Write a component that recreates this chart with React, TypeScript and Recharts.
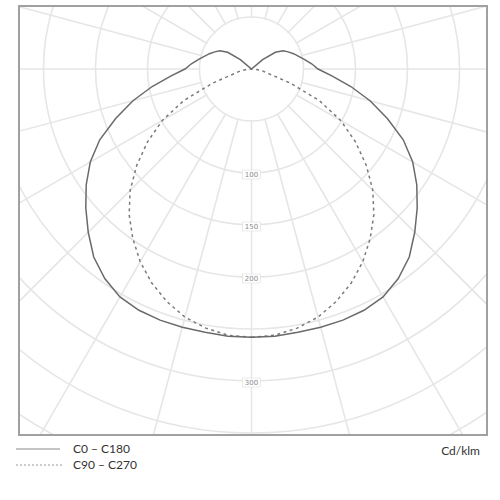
import React from "react";
import { RadarChart, Radar, PolarGrid, PolarAngleAxis, PolarRadiusAxis } from "recharts";

// luminous intensity in cd/klm, read every 5 deg of gamma (0 = straight down, 180 = straight up)
const gammaAngles = [
  0, 5, 10, 15, 20, 25, 30, 35, 40, 45, 50, 55, 60, 65, 70, 75, 80, 85, 90,
  95, 100, 105, 110, 115, 120, 125, 130, 135, 140, 145, 150, 155, 160, 165, 170, 175, 180,
];
const c0c180 = [
  258, 258, 257, 257, 257, 256, 253, 246, 236, 222, 208, 194, 179, 161, 139, 118, 97, 78, 64,
  58, 52, 47, 43, 39, 35, 28, 14, 0, 0, 0, 0, 0, 0, 0, 0, 0, 0,
];
const c90c270 = [
  258, 257, 253, 247, 238, 227, 214, 199, 183, 165, 144, 122, 99, 72, 40, 17, 11, 5, 0,
  0, 0, 0, 0, 0, 0, 0, 0, 0, 0, 0, 0, 0, 0, 0, 0, 0, 0,
];

const radiusTicks = [0, 50, 100, 150, 200, 250, 300, 350, 400, 450];
const radiusLabels = [100, 150, 200, 300];
const gridAngles = [0, 15, 30, 45, 60, 75, 90, 105, 120, 135, 150, 165, 180, 195, 210, 225, 240, 255, 270, 285, 300, 315, 330, 345];
const HUB = 49; // no radial lines inside the 50 circle

// full turn, mirrored: right half is C0 / C90, left half C180 / C270
const data: { angle: number; c0: number; c90: number; hub: number }[] = [];
for (let t = 0; t < 360; t += 5) {
  const gamma = t <= 180 ? t : 360 - t;
  const k = gammaAngles.indexOf(gamma);
  data.push({ angle: t, c0: c0c180[k], c90: c90c270[k], hub: HUB });
}

const RadiusTick = (props: any) => {
  const { x, y, payload } = props;
  if (!radiusLabels.includes(payload.value)) return <g />;
  return (
    <g>
      <rect x={x - 9} y={y - 3} width={18} height={9} fill="#fff" stroke="#dcdcdc" strokeWidth={0.6} />
      <text x={x} y={y + 4} textAnchor="middle" fontSize={7} fill="#8a8a8a" fontFamily="DejaVu Sans">
        {payload.value}
      </text>
    </g>
  );
};

const legendText: React.CSSProperties = {
  position: "absolute",
  left: 73,
  fontFamily: "Lato",
  fontSize: 12,
  lineHeight: "12px",
  color: "#333",
  whiteSpace: "nowrap",
};

export default function App() {
  return (
    <div style={{ position: "fixed", left: 0, top: 0, width: 500, height: 500, background: "#fff" }}>
      <div
        style={{
          position: "absolute",
          left: 18,
          top: 5,
          width: 470,
          height: 431,
          border: "2px solid #a0a0a0",
          boxSizing: "border-box",
          overflow: "hidden",
        }}
      >
        <RadarChart
          width={466}
          height={427}
          data={data}
          cx={231.5}
          cy={62}
          outerRadius={468}
          startAngle={-90}
          endAngle={270}
          margin={{ top: 0, right: 0, bottom: 0, left: 0 }}
        >
          <PolarGrid gridType="circle" polarAngles={gridAngles} stroke="#e6e6e6" strokeWidth={1.6} />
          {/* numeric angle axis so 0 deg sits exactly at the bottom and 180 at the top */}
          <PolarAngleAxis
            dataKey="angle"
            type="number"
            domain={[0, 360]}
            tick={false}
            axisLine={false}
            tickLine={false}
          />
          <PolarRadiusAxis
            angle={-90}
            domain={[0, 450]}
            ticks={radiusTicks as any}
            tickCount={10}
            axisLine={false}
            tick={<RadiusTick />}
          />
          <Radar dataKey="hub" stroke="none" fill="#fff" fillOpacity={1} isAnimationActive={false} />
          <Radar
            dataKey="c90"
            stroke="#7a7a7a"
            strokeWidth={1.5}
            strokeDasharray="3 3.5"
            fill="none"
            fillOpacity={0}
            isAnimationActive={false}
          />
          <Radar dataKey="c0" stroke="#6a6a6a" strokeWidth={1.5} fill="none" fillOpacity={0} isAnimationActive={false} />
        </RadarChart>
      </div>

      <svg style={{ position: "absolute", left: 0, top: 440 }} width={70} height={30}>
        <line x1={16} y1={9} x2={60} y2={9} stroke="#8a8a8a" strokeWidth={1} />
        <line x1={16} y1={25} x2={62} y2={25} stroke="#9a9a9a" strokeWidth={1} strokeDasharray="2 2" />
      </svg>
      <div style={{ ...legendText, top: 443 }}>C0 – C180</div>
      <div style={{ ...legendText, top: 459 }}>C90 – C270</div>
      <div style={{ ...legendText, left: undefined, right: 20, top: 445 }}>Cd/klm</div>
    </div>
  );
}
